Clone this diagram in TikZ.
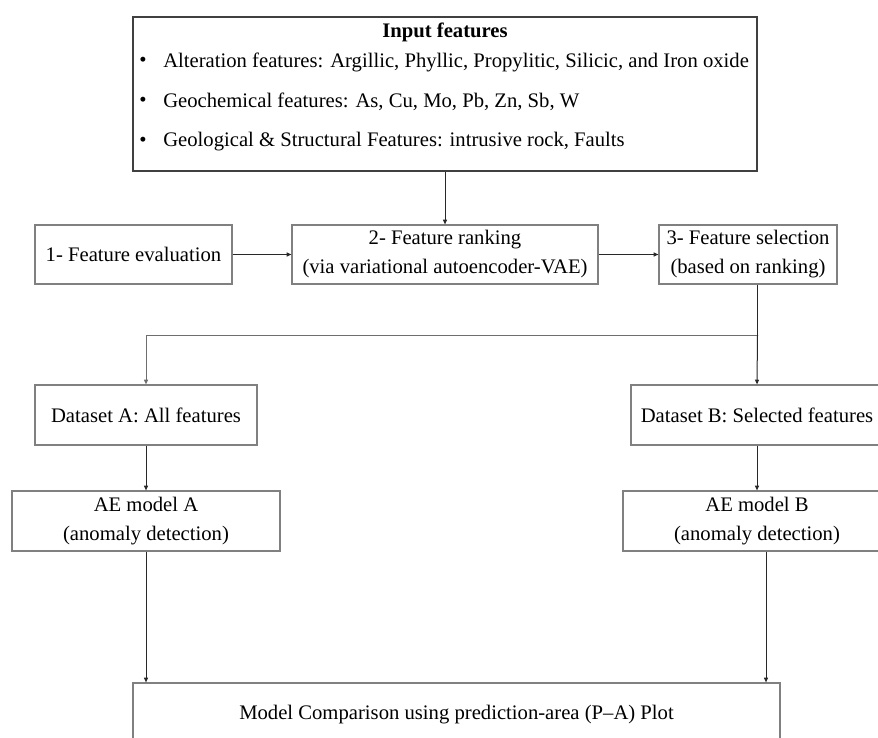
\documentclass[tikz,border=0pt]{standalone}
\usepackage{fontspec}
\setmainfont{Liberation Serif}
\usetikzlibrary{arrows.meta}

\tikzset{
  procbox/.style={draw={rgb, 255:red, 128; green, 128; blue, 128 }, line width=0.9pt, align=center, inner sep=0.75pt, minimum height=45pt, font=\fontsize{15.5}{21.75}\selectfont},
  listtext/.style={anchor=west, inner sep=0.75pt, font=\fontsize{15.5}{21.75}\selectfont},
  feedline/.style={draw={rgb, 255:red, 40; green, 40; blue, 40 }, line width=0.75pt, -{Triangle[length=3.5pt, width=3pt]}},
}

\begin{document}
\begin{tikzpicture}[x=0.75pt,y=0.75pt,yscale=-1]
\useasboundingbox (0,0) rectangle (878,738);
\clip (0,0) rectangle (878,738);

%Shape: Rectangle [input features]
\node (input) [draw={rgb, 255:red, 64; green, 64; blue, 64 }, line width=1.5pt, minimum width=468pt, minimum height=115.5pt] at (445,94) {};

% Text Node
\node (title) [inner sep=0.75pt, font=\fontsize{15.5}{21.75}\selectfont\bfseries] at (445,32) {Input features};
% Text Node
\node (dotA) [inner sep=0pt, font=\fontsize{15.5}{21.75}\selectfont] at (143,62) {\textbullet};
\node (altr) [listtext] at (162,62) {Alteration features: Argillic, Phyllic, Propylitic, Silicic, and Iron oxide};
% Text Node
\node (dotB) [inner sep=0pt, font=\fontsize{15.5}{21.75}\selectfont] at (143,102) {\textbullet};
\node (geoc) [listtext] at (162,102) {Geochemical features: As, Cu, Mo, Pb, Zn, Sb, W};
% Text Node
\node (dotC) [inner sep=0pt, font=\fontsize{15.5}{21.75}\selectfont] at (143,142) {\textbullet};
\node (geol) [listtext] at (162,142) {Geological \& Structural Features: intrusive rock, Faults};

%Shape: Rectangle [steps]
\node (eval) [procbox, minimum width=147.75pt, minimum height=44.25pt] at (133.5,254.5) {1- Feature evaluation};
\node (rank) [procbox, minimum width=229.5pt, minimum height=44.25pt] at (445,254.5) {2- Feature ranking\\(via variational autoencoder-VAE)};
\node (select) [procbox, minimum width=133.5pt, minimum height=44.25pt] at (748,254.5) {3- Feature selection\\(based on ranking)};

%Shape: Rectangle [datasets]
\node (dsA) [procbox, minimum width=166.5pt] at (146,415) {Dataset A: All features};
\node (dsB) [procbox, minimum width=189pt] at (757,415) {Dataset B: Selected features};

%Shape: Rectangle [models]
\node (aeA) [procbox, minimum width=201pt] at (146,521) {AE model A\\(anomaly detection)};
\node (aeB) [procbox, minimum width=201pt] at (757,521) {AE model B\\(anomaly detection)};

%Shape: Rectangle [comparison]
\node (cmp) [procbox, minimum width=485.25pt, minimum height=48pt] at (456.5,715) {Model Comparison using prediction-area (P--A) Plot};

%Straight Lines
\coordinate (split) at (757.5,335);
\draw [feedline] (input.south) -- (rank.north);
\draw [feedline] (eval.east) -- (rank.west);
\draw [feedline] (rank.east) -- (select.west);
\draw [draw={rgb, 255:red, 40; green, 40; blue, 40 }, line width=0.75pt] (split |- select.south) -- (split);
\draw [feedline, draw={rgb, 255:red, 110; green, 110; blue, 110 }] (split) -| (dsA.north);
\draw [feedline] (split) -- (dsB.north);
\draw [feedline] (dsA.south) -- (aeA.north);
\draw [feedline] (dsB.south) -- (aeB.north);
\draw [feedline] (aeA.south) -- (aeA.south |- cmp.north);
\draw [feedline] ([xshift=6.75pt]aeB.south) -- ([xshift=6.75pt]aeB.south |- cmp.north);

\end{tikzpicture}
\end{document}
